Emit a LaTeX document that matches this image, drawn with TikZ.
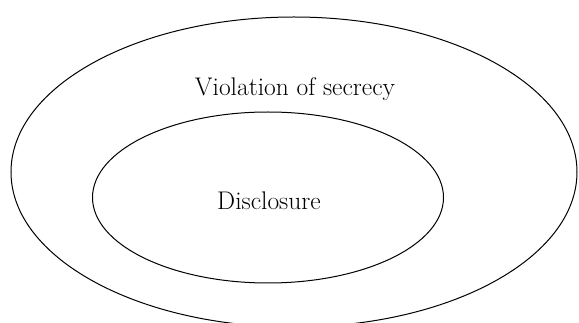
\documentclass[tikz,border=0pt]{standalone}
\usetikzlibrary{shapes.geometric}
\begin{document}
\begin{tikzpicture}[x=1pt,y=-1pt]

        \useasboundingbox (0,0) rectangle (579,323);

        \begin{scope}[every node/.style={ellipse,draw,line width=1pt,inner sep=0pt}]
          \node[minimum width=566pt, minimum height=310pt] (secrecy) at (294,172) {};
          \node[minimum width=351pt, minimum height=171pt] (disclosure) at (268,197.5) {};
        \end{scope}

        \begin{scope}[every node/.style={font=\fontsize{25.5}{30}\selectfont}]
          \node (secrecylabel) at (295,89) {Violation of secrecy};
          \node (disclosurelabel) at (269,201) {Disclosure};
        \end{scope}

      \end{tikzpicture}
\end{document}
